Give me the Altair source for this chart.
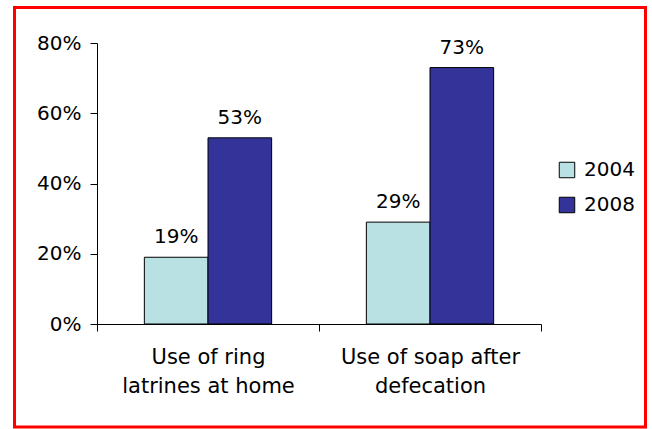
import altair as alt
import pandas as pd

# Survey indicators, one pair of bars per indicator
categories = ["Use of ring\nlatrines at home", "Use of soap after\ndefecation"]
years = ["2004", "2008"]
values_2004 = [0.19, 0.29]
values_2008 = [0.53, 0.73]

colors = ["#B9E0E3", "#333399"]
font = "DejaVu Sans"
ink = "#000000"

rows = []
for cat, v04, v08 in zip(categories, values_2004, values_2008):
    rows.append({"category": cat, "year": "2004", "value": v04})
    rows.append({"category": cat, "year": "2008", "value": v08})
df = pd.DataFrame(rows)

x_enc = alt.X(
    "category:N",
    sort=categories,
    scale=alt.Scale(paddingInner=0, paddingOuter=0),
    axis=alt.Axis(
        title=None,
        labelAngle=0,
        labelExpr="split(datum.label, '\\n')",
        labelFontSize=21,
        labelLineHeight=29,
        labelPadding=15,
        labelColor=ink,
        labelFont=font,
        tickBand="extent",
        tickSize=7,
        tickColor="black",
        domainColor="black",
        grid=False,
    ),
)
xoff_enc = alt.XOffset(
    "year:N", sort=years, scale=alt.Scale(paddingInner=0, paddingOuter=0.744)
)
y_enc = alt.Y(
    "value:Q",
    scale=alt.Scale(domain=[0, 0.8]),
    axis=alt.Axis(
        title=None,
        format=".0%",
        values=[0, 0.2, 0.4, 0.6, 0.8],
        labelFontSize=20,
        labelFont=font,
        labelColor=ink,
        labelPadding=9,
        tickSize=7,
        tickColor="black",
        domainColor="black",
        grid=False,
    ),
)

bars = alt.Chart(df).mark_bar(stroke="black", strokeWidth=1).encode(
    x=x_enc,
    xOffset=xoff_enc,
    y=y_enc,
    color=alt.Color(
        "year:N",
        scale=alt.Scale(domain=years, range=colors),
        legend=alt.Legend(
            title=None,
            orient="none",
            legendX=460,
            legendY=117,
            symbolType="square",
            symbolSize=240,
            symbolStrokeColor="black",
            symbolStrokeWidth=1,
            symbolOpacity=1,
            labelFontSize=20,
            labelFont=font,
            labelColor=ink,
            labelOffset=7,
            rowPadding=15,
        ),
    ),
)

labels = alt.Chart(df).mark_text(
    baseline="alphabetic", dy=-14, fontSize=20, font=font, color=ink
).encode(
    x=alt.X("category:N", sort=categories),
    xOffset=alt.XOffset("year:N", sort=years),
    y="value:Q",
    text=alt.Text("value:Q", format=".0%"),
)

# red frame around the whole figure
frame = alt.Chart(pd.DataFrame({"f": [0]})).mark_rect(
    filled=False, stroke="#FF0000", strokeWidth=3
).encode(
    x=alt.value(-82.5), x2=alt.value(548.5), y=alt.value(-35.5), y2=alt.value(384)
)

chart = (
    alt.layer(frame, bars, labels)
    .properties(
        width=444,
        height=281,
        autosize=alt.AutoSizeParams(type="none"),
        padding={"left": 97, "top": 43, "right": 111, "bottom": 105},
        background="white",
    )
    .configure_view(stroke=None)
)

chart.save("out.html", embed_options={"renderer": "svg", "actions": False})
